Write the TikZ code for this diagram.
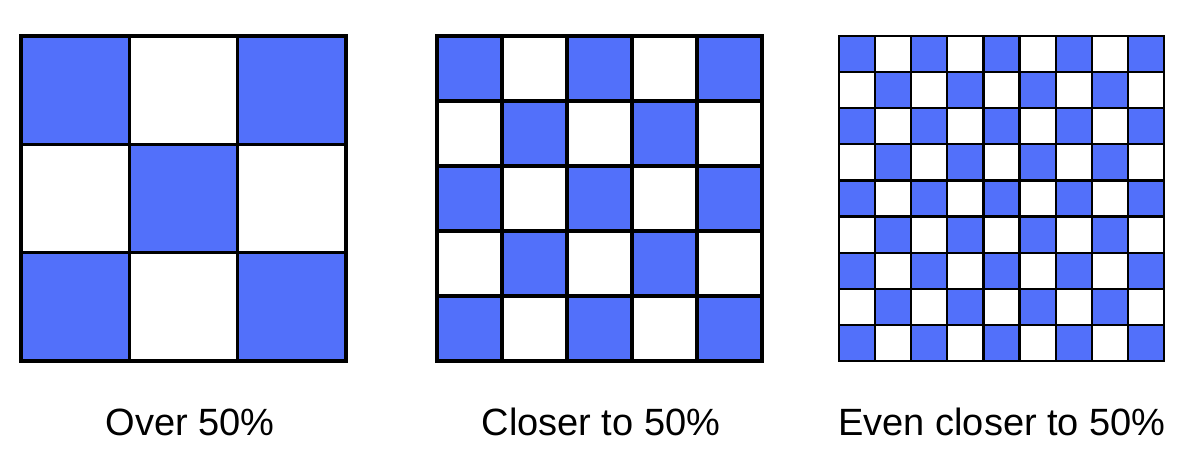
\documentclass[tikz,border=0pt]{standalone}
\usepackage{fontspec}
\setmainfont{Liberation Sans}
\definecolor{cellblue}{RGB}{82,112,250}
\begin{document}
\begin{tikzpicture}[x=0.75pt,y=-0.75pt,
  gridline/.style={draw=black,line width=2.6pt},
  thinline/.style={draw=black,line width=1.7pt},
  caption/.style={font=\fontsize{28.5}{34}\selectfont,anchor=base,inner sep=0pt}]
\useasboundingbox (0,0) rectangle (1200,470);
% grid 1 (3x3)
\foreach \i in {0,...,2}{\foreach \j in {0,...,2}{
  \pgfmathtruncatemacro{\p}{mod(\i+\j,2)}
  \ifnum\p=0 \fill[cellblue] (21+\i*325/3,36+\j*325/3) rectangle ++(325/3,325/3);\fi}}
\foreach \k in {0,...,3}{
  \draw[gridline] (21+\k*325/3,36) -- (21+\k*325/3,361);
  \draw[gridline] (21,36+\k*325/3) -- (346,36+\k*325/3);}
\draw[gridline] (21,36) rectangle (346,361);
% grid 2 (5x5)
\foreach \i in {0,...,4}{\foreach \j in {0,...,4}{
  \pgfmathtruncatemacro{\p}{mod(\i+\j,2)}
  \ifnum\p=0 \fill[cellblue] (437+\i*325/5,36+\j*325/5) rectangle ++(325/5,325/5);\fi}}
\foreach \k in {0,...,5}{
  \draw[gridline] (437+\k*65,36) -- (437+\k*65,361);
  \draw[gridline] (437,36+\k*65) -- (762,36+\k*65);}
\draw[gridline] (437,36) rectangle (762,361);
% grid 3 (9x9)
\foreach \i in {0,...,8}{\foreach \j in {0,...,8}{
  \pgfmathtruncatemacro{\p}{mod(\i+\j,2)}
  \ifnum\p=0 \fill[cellblue] (839+\i*325/9,36+\j*325/9) rectangle ++(325/9,325/9);\fi}}
\foreach \k in {0,...,9}{
  \draw[thinline] (839+\k*325/9,36) -- (839+\k*325/9,361);
  \draw[thinline] (839,36+\k*325/9) -- (1164,36+\k*325/9);}
\draw[thinline] (839,36) rectangle (1164,361);
\node[caption] (c1) at (190,435) {Over 50\%};
\node[caption] (c2) at (601,435) {Closer to 50\%};
\node[caption] (c3) at (1002,435) {Even closer to 50\%};
\end{tikzpicture}
\end{document}
